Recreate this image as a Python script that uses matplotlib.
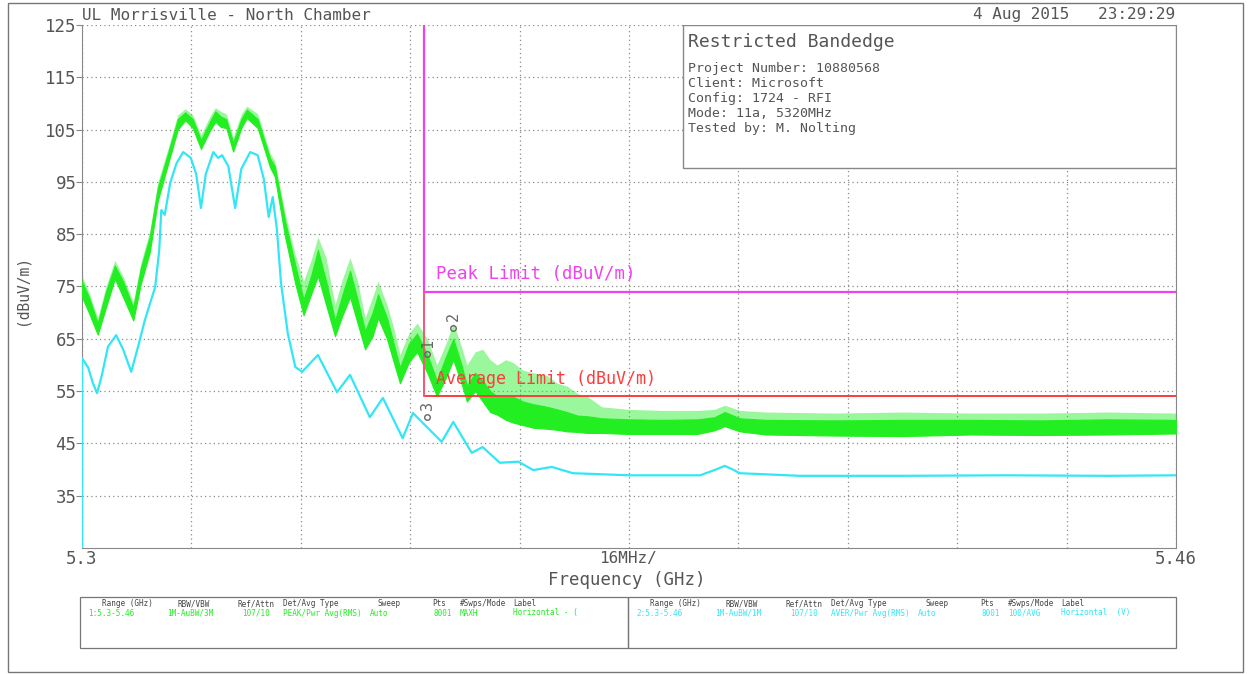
import numpy as np
import matplotlib
matplotlib.use("Agg")
import matplotlib.pyplot as plt
from matplotlib.patches import Rectangle

# peak trace (green), noisy: lower / upper edge of the dense trace band and
# the top of the noise spikes, dBuV/m
peak_freq = [5.3000, 5.3010, 5.3023, 5.3035, 5.3048, 5.3060, 5.3075, 5.3086,
             5.3099, 5.3111, 5.3126, 5.3140, 5.3151, 5.3162, 5.3174, 5.3187,
             5.3195, 5.3203, 5.3211, 5.3221, 5.3233, 5.3241, 5.3257, 5.3275,
             5.3282, 5.3297, 5.3312, 5.3324, 5.3335, 5.3345, 5.3357, 5.3370,
             5.3381, 5.3392, 5.3403, 5.3414, 5.3425, 5.3433, 5.3446, 5.3456,
             5.3465, 5.3478, 5.3490, 5.3505, 5.3519, 5.3532, 5.3543, 5.3555,
             5.3563, 5.3575, 5.3586, 5.3597, 5.3607, 5.3620, 5.3630, 5.3645,
             5.3660, 5.3680, 5.3695, 5.3709, 5.3725, 5.3739, 5.3760, 5.3800,
             5.3850, 5.3900, 5.3925, 5.3940, 5.3962, 5.4000, 5.4100, 5.4200,
             5.4300, 5.4400, 5.4500, 5.4600]
peak_lo = [73.0, 70.0, 65.8, 71.0, 76.5, 73.0, 68.5, 75.5,
           81.5, 91.5, 98.5, 105.0, 106.8, 105.3, 101.3, 104.8,
           106.5, 105.5, 105.3, 100.8, 105.3, 107.2, 105.3, 97.8,
           96.0, 84.5, 75.5, 69.5, 73.5, 77.0, 71.5, 65.5,
           69.5, 73.0, 68.0, 63.0, 65.5, 69.0, 65.0, 60.5,
           56.5, 60.5, 62.5, 58.5, 54.0, 57.5, 61.0, 56.5,
           53.0, 55.0, 53.0, 51.0, 50.5, 49.5, 49.0, 48.5,
           48.0, 47.8, 47.6, 47.3, 47.2, 47.0, 47.0, 46.8,
           46.8, 46.8, 47.5, 48.3, 47.3, 46.7, 46.5, 46.4,
           46.7, 46.6, 46.7, 46.9]
peak_hi = [76.0, 73.0, 68.0, 74.0, 79.0, 76.0, 71.0, 78.5,
           84.5, 94.0, 100.5, 107.0, 108.3, 107.0, 103.0, 106.5,
           108.5, 107.5, 107.0, 102.5, 107.0, 108.8, 107.0, 99.5,
           98.0, 87.5, 79.0, 72.5, 77.0, 82.0, 76.0, 68.5,
           73.5, 78.0, 72.5, 66.5, 70.0, 73.5, 69.0, 64.0,
           59.5, 64.0, 66.0, 62.0, 57.0, 61.5, 65.0, 60.0,
           56.0, 58.5, 57.0, 55.0, 54.0, 54.0, 54.0, 53.0,
           52.5, 52.0, 51.5, 51.0, 50.3, 50.2, 49.8, 49.6,
           49.5, 49.6, 50.0, 51.0, 49.8, 49.5, 49.4, 49.5,
           49.5, 49.4, 49.6, 49.5]
peak_spk = [77.0, 74.0, 69.0, 75.0, 80.0, 77.0, 72.0, 79.5,
            85.5, 95.0, 101.5, 107.8, 109.0, 107.8, 104.0, 107.5,
            109.2, 108.5, 108.0, 103.5, 108.0, 109.5, 108.0, 100.5,
            99.0, 89.0, 81.0, 76.0, 80.0, 84.5, 80.5, 71.5,
            76.5, 80.5, 76.0, 69.0, 73.0, 76.0, 71.5, 67.0,
            62.0, 66.0, 68.0, 65.0, 60.0, 64.0, 68.0, 63.5,
            60.0, 62.5, 63.0, 61.0, 60.0, 61.0, 60.5, 59.0,
            58.5, 58.0, 56.5, 56.0, 54.5, 54.0, 52.0, 51.5,
            51.3, 51.3, 51.5, 52.3, 51.3, 51.0, 50.8, 51.0,
            50.8, 50.8, 51.0, 50.8]

# average trace (cyan)
avg_freq = [5.3000, 5.3000, 5.3009, 5.3016, 5.3022, 5.3029, 5.3038, 5.3050,
            5.3060, 5.3072, 5.3082, 5.3092, 5.3107, 5.3113, 5.3116, 5.3121,
            5.3129, 5.3138, 5.3148, 5.3159, 5.3167, 5.3174, 5.3181, 5.3192,
            5.3199, 5.3205, 5.3214, 5.3224, 5.3233, 5.3246, 5.3257, 5.3266,
            5.3273, 5.3279, 5.3285, 5.3291, 5.3301, 5.3312, 5.3322, 5.3345,
            5.3373, 5.3392, 5.3421, 5.3440, 5.3469, 5.3484, 5.3526, 5.3543,
            5.3570, 5.3586, 5.3611, 5.3638, 5.3660, 5.3687, 5.3718, 5.3801,
            5.3904, 5.3927, 5.3940, 5.3952, 5.3962, 5.4050, 5.4200, 5.4350,
            5.4500, 5.4600]
avg_val = [25.0, 61.3, 59.5, 56.5, 54.6, 58.0, 63.5, 65.7,
           63.0, 58.7, 63.5, 68.6, 74.9, 82.0, 89.6, 88.7,
           94.8, 98.5, 100.7, 99.6, 96.5, 90.0, 96.5, 100.7,
           99.6, 100.1, 98.0, 90.0, 97.5, 100.7, 100.1, 95.5,
           88.3, 92.1, 86.0, 75.7, 66.0, 59.6, 58.7, 61.9,
           54.8, 58.1, 50.0, 53.7, 46.0, 50.8, 45.3, 49.1,
           43.2, 44.3, 41.3, 41.5, 39.9, 40.5, 39.3, 38.9,
           38.9, 40.0, 40.7, 40.0, 39.3, 38.8, 38.8, 38.9,
           38.8, 38.9]

band_edge = 5.35
peak_limit = 74
avg_limit = 54

# markers: (label, freq, level)
markers = [("1", 5.3505, 62.0), ("2", 5.3543, 67.1), ("3", 5.3505, 50.0)]

y_ticks = [35, 45, 55, 65, 75, 85, 95, 105, 115, 125]
x_grid = [5.3 + 0.016 * i for i in range(11)]

info_title = "Restricted Bandedge"
info_lines = ["Project Number: 10880568", "Client: Microsoft",
              "Config: 1724 - RFI", "Mode: 11a, 5320MHz", "Tested by: M. Nolting"]

tbl_head = ["Range (GHz)", "RBW/VBW", "Ref/Attn", "Det/Avg Type", "Sweep",
            "Pts", "#Swps/Mode", "Label"]
tbl_peak = ["1:5.3-5.46", "1M-AuBW/3M", "107/10", "PEAK/Pwr Avg(RMS)", "Auto",
            "8001", "MAXH", "Horizontal - ("]
tbl_avg = ["2:5.3-5.46", "1M-AuBW/1M", "107/10", "AVER/Pwr Avg(RMS)", "Auto",
           "8001", "100/AVG", "Horizontal  (V)"]

GREEN = "#22ee22"
CYAN = "#33e6f5"
MAGENTA = "#f040f0"
RED = "#ff3b3b"
GRAY = "#555555"
MONO = "DejaVu Sans Mono"

plt.rcParams["font.family"] = MONO

W, H = 1250, 674
fig = plt.figure(figsize=(12.5, 6.74), dpi=100)
fig.patch.set_facecolor("white")


def fpos(px, py):
    return px / W, 1 - py / H


ax = fig.add_axes([82 / W, 1 - 548 / H, (1176 - 82) / W, (548 - 25) / H])
ax.set_xlim(5.3, 5.46)
ax.set_ylim(25, 125)
ax.set_xticks(x_grid)
ax.set_xticklabels([])
ax.set_yticks(y_ticks)
ax.tick_params(axis="y", length=4, color="#888888", labelsize=12.5,
               labelcolor=GRAY, pad=0)
ax.tick_params(axis="x", length=0)
ax.grid(True, color="#8a8a8a", linestyle=(0, (1, 2.5)), linewidth=0.9)
for side in ["left", "right", "bottom"]:
    ax.spines[side].set_color("#888888")
ax.spines["top"].set_visible(False)

# traces: dense band plus lighter hatch of the noise spikes above it
ax.fill_between(peak_freq, peak_hi, peak_spk, color=GREEN, alpha=0.45,
                linewidth=0, zorder=3)
ax.fill_between(peak_freq, peak_lo, peak_hi, color=GREEN, linewidth=0.8,
                edgecolor=GREEN, zorder=3)
ax.plot(avg_freq, avg_val, color=CYAN, linewidth=1.6, zorder=3)

# limits
ax.plot([band_edge, band_edge, 5.46], [125, avg_limit, avg_limit],
        color=RED, linewidth=1.4, zorder=4)
ax.plot([band_edge, band_edge, 5.46], [125, peak_limit, peak_limit],
        color=MAGENTA, linewidth=1.6, zorder=4)
ax.plot([band_edge, band_edge], [peak_limit, avg_limit], color="#f06080",
        linewidth=1.2, zorder=4)
ax.text(5.3518, peak_limit + 2.5, "Peak Limit (dBuV/m)", color=MAGENTA,
        fontsize=12.5, zorder=5)
ax.text(5.3518, avg_limit + 2.3, "Average Limit (dBuV/m)", color=RED,
        fontsize=12, zorder=5)

for lab, f, v in markers:
    ax.plot([f], [v], marker="o", markersize=4, markerfacecolor="none",
            markeredgecolor="#666666", markeredgewidth=1, zorder=6)
    ax.text(f, v + 1.3, lab, color="#666666", fontsize=11, ha="center",
            va="bottom", rotation=90, zorder=6)

# info box
ax.add_patch(Rectangle((0.549, 0.727), 0.451, 0.273, transform=ax.transAxes,
                       facecolor="white", edgecolor="#888888", linewidth=1,
                       zorder=7))
ax.text(0.554, 0.967, info_title, transform=ax.transAxes, fontsize=13,
        color=GRAY, va="center", zorder=8)
for i, line in enumerate(info_lines):
    ax.text(0.554, 0.916 - i * 0.0285, line, transform=ax.transAxes,
            fontsize=9.5, color=GRAY, va="center", zorder=8)

# header and axis texts
fig.text(*fpos(82, 15), "UL Morrisville - North Chamber", fontsize=11.5,
         color=GRAY, va="center")
fig.text(*fpos(1175, 15), "4 Aug 2015   23:29:29", fontsize=11.5,
         color=GRAY, va="center", ha="right")
fig.text(*fpos(22, 290), "(dBuV/m)", fontsize=10.5, color=GRAY, rotation=90,
         va="center", ha="center")
fig.text(*fpos(82, 559), "5.3", fontsize=12.5, color=GRAY, va="center",
         ha="center")
fig.text(*fpos(1176, 559), "5.46", fontsize=12.5, color=GRAY, va="center",
         ha="center")
fig.text(*fpos(628, 559), "16MHz/", fontsize=11.5, color=GRAY, va="center",
         ha="center")
fig.text(*fpos(627, 580), "Frequency (GHz)", fontsize=12.5, color=GRAY,
         va="center", ha="center")

# settings table at the bottom
head_dx = [22, 98, 157, 203, 298, 352, 380, 433]
val_dx = [8, 87, 162, 203, 290, 353, 380, 433]
for x0, row, col in [(80, tbl_peak, GREEN), (628, tbl_avg, CYAN)]:
    box = Rectangle(fpos(x0, 648), 548 / W, 51 / H, transform=fig.transFigure,
                    facecolor="none", edgecolor="#777777", linewidth=0.9)
    fig.add_artist(box)
    for hx, vx, h, v in zip(head_dx, val_dx, tbl_head, row):
        fig.text(*fpos(x0 + hx, 604), h, fontsize=5.5, color="#444444",
                 va="center")
        t = fig.text(*fpos(x0 + vx, 613), v, fontsize=5.5, color=col,
                     va="center")
        t.set_clip_path(box)

# outer frame
fig.add_artist(Rectangle(fpos(8, 672), (1243 - 8) / W, (672 - 3) / H,
                         transform=fig.transFigure, facecolor="none",
                         edgecolor="#777777", linewidth=1))

fig.savefig("out.png", dpi=100)
